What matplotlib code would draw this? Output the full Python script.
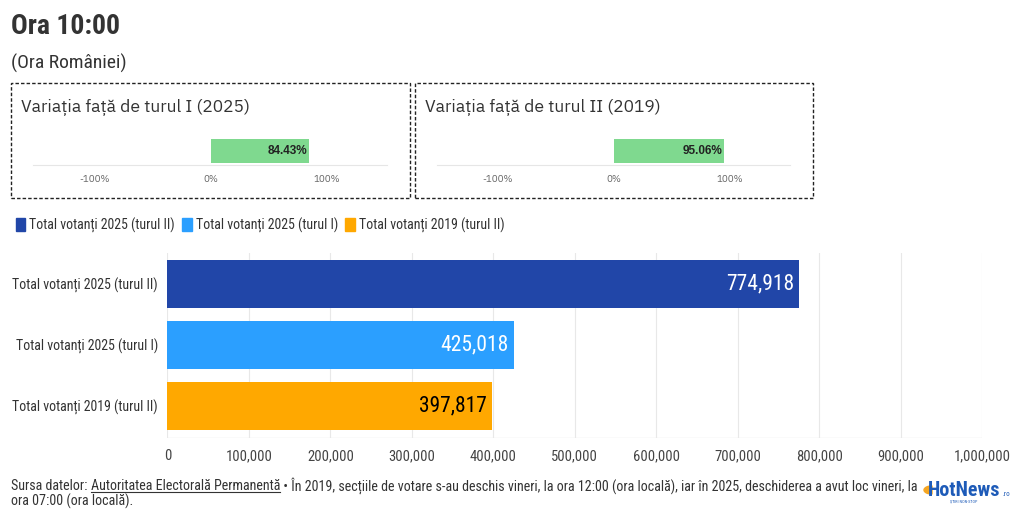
import matplotlib
matplotlib.use("Agg")
import matplotlib.pyplot as plt
from matplotlib.patches import Rectangle, Patch, Wedge
from matplotlib import font_manager as fm

W, H = 1020, 524
names = {f.name for f in fm.fontManager.ttflist}
COND = [n for n in ["Roboto Condensed", "Liberation Sans Narrow", "Roboto"] if n in names] + ["DejaVu Sans"]
PLEX = [n for n in ["IBM Plex Sans", "Open Sans", "Inter"] if n in names] + ["DejaVu Sans"]
BOLDF = [n for n in ["Liberation Sans", "Roboto"] if n in names] + ["DejaVu Sans"]
plt.rcParams['font.family'] = COND

# ---- data ----
categories = ["Total votanți 2025 (turul II)", "Total votanți 2025 (turul I)", "Total votanți 2019 (turul II)"]
values = [774918, 425018, 397817]
value_labels = ["774,918", "425,018", "397,817"]
bar_colors = ["#2146A8", "#2B9FFF", "#FFA800"]
label_colors = ["white", "white", "black"]
xticks = [0, 100000, 200000, 300000, 400000, 500000, 600000, 700000, 800000, 900000, 1000000]
xtick_labels = ["0", "100,000", "200,000", "300,000", "400,000", "500,000", "600,000",
                "700,000", "800,000", "900,000", "1,000,000"]

var_titles = ["Variația față de turul I (2025)", "Variația față de turul II (2019)"]
var_values = [84.43, 95.06]
var_labels = ["84.43%", "95.06%"]
var_ticks = [-100, 0, 100]
var_tick_labels = ["-100%", "0%", "100%"]

fig = plt.figure(figsize=(W / 100, H / 100), dpi=100)
fig.patch.set_facecolor("white")

def fx(px): return px / W
def fy(py): return 1 - py / H

# titles
fig.text(fx(11), fy(26), "Ora 10:00", fontsize=20, fontweight="bold", color="#333333", va="center", ha="left")
fig.text(fx(11), fy(63), "(Ora României)", fontsize=14, color="#333333", va="center", ha="left")

# variation boxes
boxes = [(11, 410, 33, 387, 211, 116), (415, 813, 437, 790, 614, 116)]
for i, (bx0, bx1, ax0, ax1, zero, per100) in enumerate(boxes):
    fig.patches.append(Rectangle((fx(bx0), fy(198)), fx(bx1 - bx0), (198 - 83) / H,
                                 transform=fig.transFigure, fill=False, ec="#222222",
                                 lw=1.0, ls=(0, (2.5, 1.5))))
    fig.text(fx(bx0 + 10), fy(107), var_titles[i], fontsize=12.6, color="#333333",
             va="center", ha="left", family=PLEX)
    ax = fig.add_axes([fx(ax0), fy(165), fx(ax1 - ax0), (165 - 134) / H])
    lo = (ax0 - zero) / per100 * 100
    hi = (ax1 - zero) / per100 * 100
    ax.barh([0], [var_values[i]], height=0.84, left=0, color="#7FD98F", align="edge")
    ax.set_ylim(-0.06, 1)
    ax.set_xlim(lo, hi)
    ax.text(var_values[i] - 1.5, 0.42, var_labels[i], ha="right", va="center",
            fontsize=8.5, fontweight="bold", color="#222222", family=BOLDF)
    for s in ["top", "right", "left"]:
        ax.spines[s].set_visible(False)
    ax.spines["bottom"].set_color("#e6e6e6")
    ax.set_yticks([])
    ax.set_xticks(var_ticks)
    ax.set_xticklabels(var_tick_labels, fontsize=7, color="#666666", family=PLEX)
    ax.tick_params(axis="x", length=0, pad=7)

# main chart
ax = fig.add_axes([fx(167.5), fy(438), fx(982 - 167.5), (438 - 253) / H])
ypos = list(range(len(categories)))
ax.barh(ypos, values, height=0.79, color=bar_colors)
ax.set_xlim(0, 1000000)
ax.set_ylim(2.525, -0.508)
ax.set_yticks(ypos)
ax.set_yticklabels(categories, fontsize=10, color="#333333")
ax.set_xticks(xticks)
ax.set_xticklabels(xtick_labels, fontsize=10.5, color="#444444")
ax.tick_params(axis="both", length=0)
ax.tick_params(axis="x", pad=8)
ax.tick_params(axis="y", pad=7)
ax.grid(axis="x", color="#e8e8e8", lw=0.8)
ax.set_axisbelow(True)
for s in ax.spines.values():
    s.set_visible(False)
ax.axhline(2.525, color="#e8e8e8", lw=1)
for y, v, lab, c in zip(ypos, values, value_labels, label_colors):
    ax.text(v - 6000, y, lab, ha="right", va="center", fontsize=15.5, color=c)

# legend
handles = [Patch(facecolor=c, edgecolor=c, label=l) for c, l in zip(bar_colors, categories)]
fig.legend(handles=handles, loc="center left", bbox_to_anchor=(fx(3), fy(225)), ncol=3,
           frameon=False, fontsize=10, handlelength=0.7, handleheight=1.0,
           handletextpad=0.3, columnspacing=0.5, labelcolor="#333333")

# footer
fig.canvas.draw()
r = fig.canvas.get_renderer()
fs = 10.1
x = fx(11)
t1 = fig.text(x, fy(486), "Sursa datelor: ", fontsize=fs, color="#333333", va="center")
bb = t1.get_window_extent(r)
x2 = bb.x1 / W
t2 = fig.text(x2, fy(486), "Autoritatea Electorală Permanentă", fontsize=fs, color="#333333", va="center")
bb2 = t2.get_window_extent(r)
fig.add_artist(plt.Line2D([bb2.x0 / W, bb2.x1 / W], [bb2.y0 / H + 0.002, bb2.y0 / H + 0.002],
                          transform=fig.transFigure, color="#333333", lw=0.8))
fig.text(bb2.x1 / W, fy(486),
         " • În 2019, secțiile de votare s-au deschis vineri, la ora 12:00 (ora locală), iar în 2025, deschiderea a avut loc vineri, la",
         fontsize=fs, color="#333333", va="center")
fig.text(x, fy(501), "ora 07:00 (ora locală).", fontsize=fs, color="#333333", va="center")

# logo
fig.patches.append(Wedge((fx(932), fy(490)), 8 / W, 90, 270, transform=fig.transFigure,
                         color="#F5A623"))
fig.text(fx(928), fy(490), "HotNews", fontsize=14.5, fontweight="bold", color="#1E5BB8",
         va="center", ha="left", family=COND)
fig.text(fx(1003), fy(494), ".ro", fontsize=5, color="#1E5BB8", va="center", ha="left")
fig.text(fx(950), fy(501), "ȘTIRI NON-STOP", fontsize=3, color="#1E5BB8", va="center", ha="left")

fig.savefig("out.png", dpi=100)
